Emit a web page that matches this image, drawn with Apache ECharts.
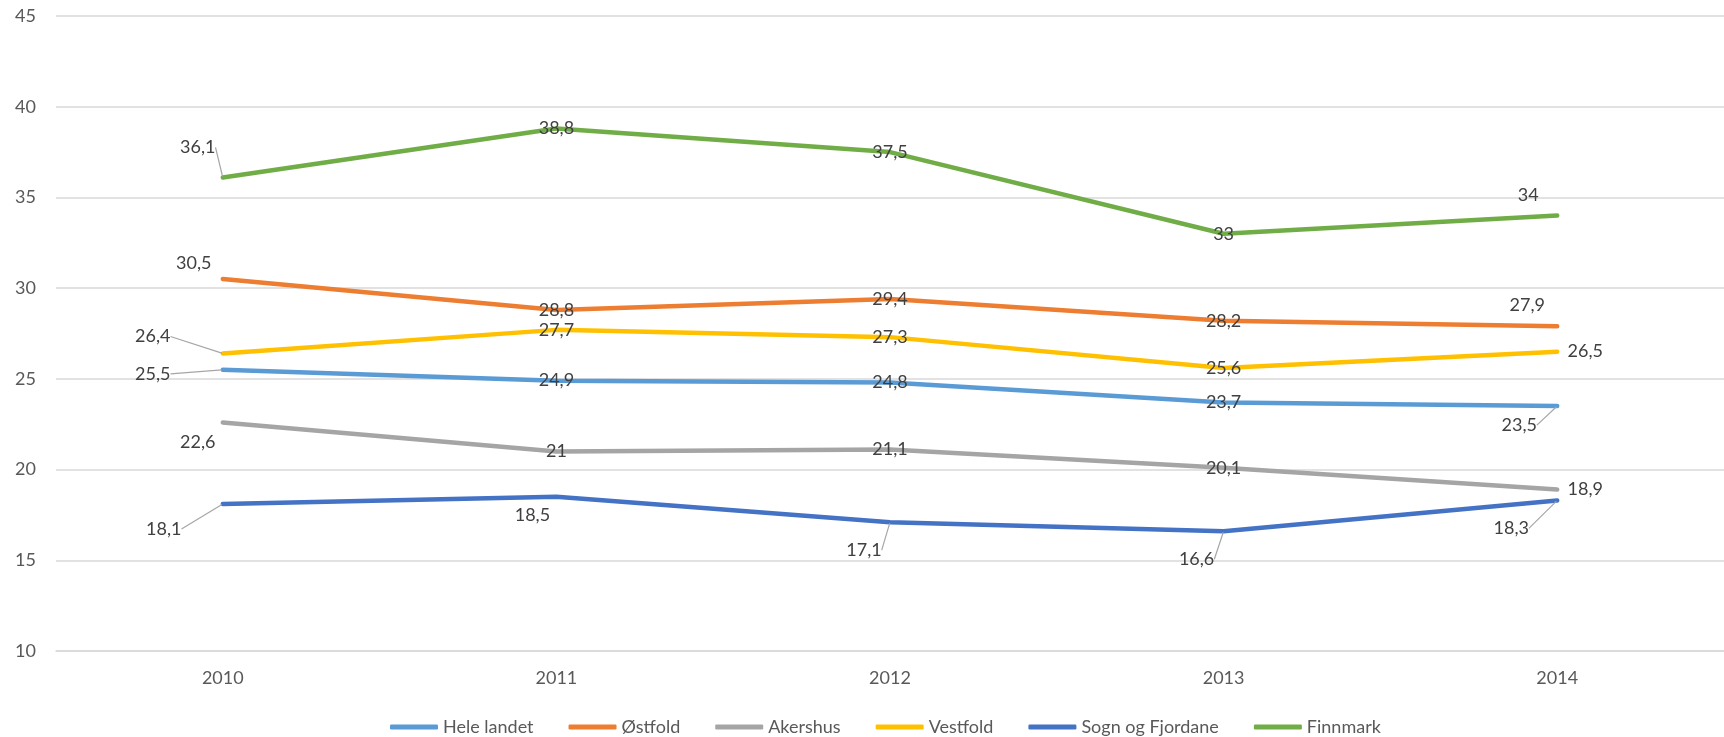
<!DOCTYPE html>
<html>
<head>
<meta charset="utf-8">
<script src="https://cdn.jsdelivr.net/npm/echarts@6/dist/echarts.min.js"></script>
<style>
  html, body { margin: 0; padding: 0; background: #fff; }
  #chart { width: 1724px; height: 737px; }
</style>
</head>
<body>
<div id="chart"></div>
<script>
  // data
  const years = ['2010', '2011', '2012', '2013', '2014'];
  const heleLandet = [25.5, 24.9, 24.8, 23.7, 23.5];
  const ostfold = [30.5, 28.8, 29.4, 28.2, 27.9];
  const akershus = [22.6, 21, 21.1, 20.1, 18.9];
  const vestfold = [26.4, 27.7, 27.3, 25.6, 26.5];
  const sognOgFjordane = [18.1, 18.5, 17.1, 16.6, 18.3];
  const finnmark = [36.1, 38.8, 37.5, 33, 34];
  const yTicks = [10, 15, 20, 25, 30, 35, 40, 45];

  const font = 'Lato';

  // label nudges [dx, dy, leader line]
  const nudges = [
    [[-70, 4, true], null, null, null, [-38, 19, true]],
    [[-29, -16, false], null, null, null, [-30, -21, false]],
    [[-25, 20, false], null, null, null, [28, 0, false]],
    [[-70, -17, true], null, null, null, [28, 0, false]],
    [[-59, 25, true], [-24, 18, false], [-26, 28, true], [-27, 28, true], [-46, 28, true]],
    [[-25, -30, true], null, null, null, [-29, -20, false]]
  ];

  function mkSeries(name, values, color, si) {
    return {
      name: name,
      type: 'line',
      data: values.map(function (v, i) {
        const n = nudges[si][i];
        return { value: v, labelLine: { show: !!(n && n[2]) } };
      }),
      symbol: 'circle',
      symbolSize: 2,
      lineStyle: { color: color, width: 4.5, cap: 'round', join: 'round' },
      itemStyle: { color: color },
      emphasis: { disabled: true },
      label: {
        show: true,
        position: 'inside',
        color: '#404040',
        fontFamily: font,
        fontSize: 18,
        formatter: function (p) { return String(p.value).replace('.', ','); }
      },
      labelLine: {
        lineStyle: { color: '#A6A6A6', width: 1.2 }
      },
      labelLayout: function (p) {
        const n = nudges[p.seriesIndex][p.dataIndex];
        if (!n) return {};
        return { dx: n[0], dy: n[1] };
      }
    };
  }

  let myChart = echarts.init(document.getElementById('chart'));
  myChart.setOption({
    animation: false,
    backgroundColor: '#fff',
    grid: {
      left: 56,
      right: -10,
      top: 16,
      bottom: 86
    },
    legend: {
      left: 385,
      top: 713,
      itemWidth: 48,
      itemHeight: 5,
      itemGap: 35,
      icon: 'roundRect',
      textStyle: { color: '#595959', fontFamily: font, fontSize: 18 },
      data: ['Hele landet', 'Østfold', 'Akershus', 'Vestfold', 'Sogn og Fjordane', 'Finnmark']
    },
    xAxis: {
      type: 'category',
      data: years,
      boundaryGap: true,
      axisTick: { show: false },
      axisLine: { lineStyle: { color: '#D9D9D9', width: 1.5 } },
      axisLabel: { color: '#595959', fontFamily: font, fontSize: 18, margin: 18 }
    },
    yAxis: {
      type: 'value',
      min: yTicks[0],
      max: yTicks[yTicks.length - 1],
      interval: 5,
      axisLine: { show: false },
      axisTick: { show: false },
      splitLine: { lineStyle: { color: '#D9D9D9', width: 1.5 } },
      axisLabel: { color: '#595959', fontFamily: font, fontSize: 18, margin: 20 }
    },
    series: [
      mkSeries('Hele landet', heleLandet, '#5B9BD5', 0),
      mkSeries('Østfold', ostfold, '#ED7D31', 1),
      mkSeries('Akershus', akershus, '#A5A5A5', 2),
      mkSeries('Vestfold', vestfold, '#FFC000', 3),
      mkSeries('Sogn og Fjordane', sognOgFjordane, '#4472C4', 4),
      mkSeries('Finnmark', finnmark, '#70AD47', 5)
    ]
  });
</script>
</body>
</html>
